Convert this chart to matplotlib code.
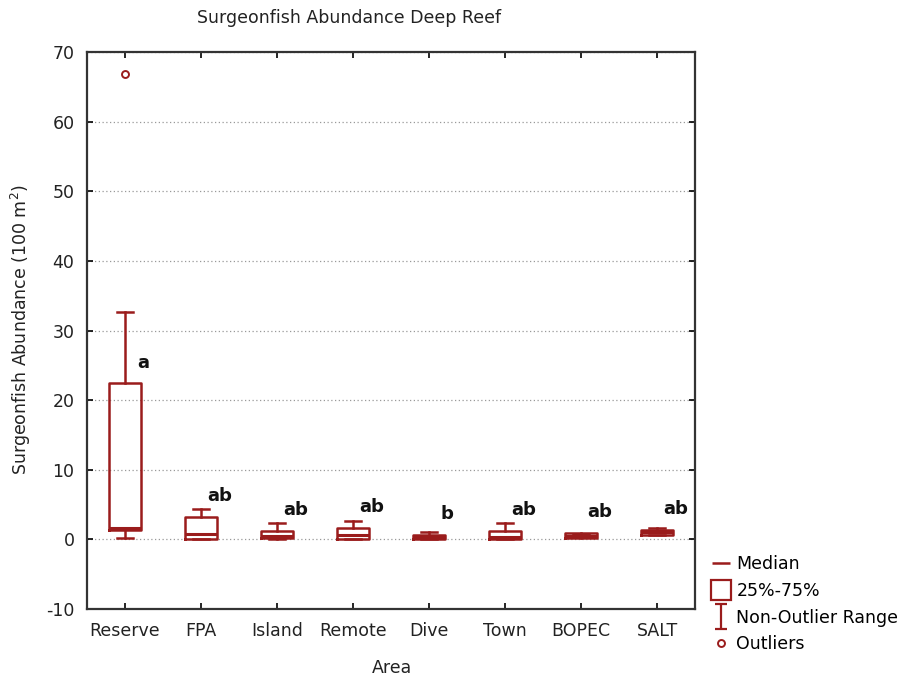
import matplotlib
matplotlib.use("Agg")
import matplotlib.pyplot as plt
from matplotlib.lines import Line2D
from matplotlib.path import Path

plt.rcParams["axes.unicode_minus"] = False
plt.rcParams["font.family"] = "DejaVu Sans"

# five-number summaries (abundance per 100 m2)
areas = ["Reserve", "FPA", "Island", "Remote", "Dive", "Town", "BOPEC", "SALT"]
whis_lo = [0.2, 0.0, 0.0, 0.0, 0.0, 0.0, 0.3, 0.7]
q1 = [1.4, 0.1, 0.2, 0.1, 0.1, 0.0, 0.2, 0.7]
med = [1.6, 0.8, 0.5, 0.6, 0.3, 0.4, 0.5, 1.1]
q3 = [22.4, 3.2, 1.2, 1.7, 0.6, 1.2, 0.9, 1.4]
whis_hi = [32.6, 4.3, 2.3, 2.6, 1.1, 2.3, 0.8, 1.7]
outliers = [[66.8], [], [], [], [], [], [], []]
letters = ["a", "ab", "ab", "ab", "b", "ab", "ab", "ab"]

red = "#9a1c1c"

fig = plt.figure(figsize=(9.12, 6.83), dpi=100)
ax = fig.add_axes([0.0954, 0.1083, 0.6667, 0.8156])

stats = []
for i, name in enumerate(areas):
    stats.append(dict(label=name, whislo=whis_lo[i], q1=q1[i], med=med[i],
                      q3=q3[i], whishi=whis_hi[i], fliers=outliers[i]))

pos = list(range(1, len(areas) + 1))
ax.bxp(stats, positions=pos, widths=0.43, capwidths=0.22,
       boxprops=dict(color=red, linewidth=1.8),
       medianprops=dict(color=red, linewidth=2.2),
       whiskerprops=dict(color=red, linewidth=1.8),
       capprops=dict(color=red, linewidth=1.8),
       flierprops=dict(marker="o", markersize=5, markerfacecolor="none",
                       markeredgecolor=red, markeredgewidth=1.4))

# significance letters next to each box
for i, let in enumerate(letters):
    ax.text(pos[i] + 0.24, q3[i] + 3, let, ha="center", va="center",
            fontsize=13, fontweight="bold", color="#111111")

ax.set_xlim(0.5, 8.5)
ax.set_ylim(-10, 70)
ax.set_yticks(range(-10, 71, 10))
ax.set_xticks(pos)
ax.set_xticklabels(areas)
ax.yaxis.grid(True, linestyle=(0, (1, 2)), color="#999999", linewidth=0.9)
ax.set_axisbelow(True)
ax.tick_params(direction="in", top=True, right=True, length=4, width=1.2,
               labelsize=12.5, pad=9, labelcolor="#222222")
for sp in ax.spines.values():
    sp.set_linewidth(1.6)
    sp.set_color("#333333")

fig.text(349 / 912, 1 - 18 / 683, "Surgeonfish Abundance Deep Reef",
         ha="center", va="center", fontsize=12.5, color="#222222")
fig.text(392 / 912, 1 - 668 / 683, "Area", ha="center", va="center",
         fontsize=12.5, color="#222222")
fig.text(21 / 912, 1 - 330 / 683, "Surgeonfish Abundance (100 m$^2$)",
         ha="center", va="center", rotation=90, fontsize=12.5,
         color="#222222")

# I-beam marker for the whisker legend entry
ibeam = Path([(-0.5, 1), (0.5, 1), (0, 1), (0, -1), (-0.5, -1), (0.5, -1)],
             [Path.MOVETO, Path.LINETO, Path.MOVETO, Path.LINETO,
              Path.MOVETO, Path.LINETO])
handles = [
    Line2D([], [], color=red, marker="_", markersize=13, mew=1.8, ls="none"),
    Line2D([], [], color=red, marker="s", markersize=15, mfc="none", mew=1.6,
           ls="none"),
    Line2D([], [], color=red, marker=ibeam, markersize=18, mew=1.6, ls="none"),
    Line2D([], [], color=red, marker="o", markersize=5, mfc="none", mew=1.4,
           ls="none"),
]
fig.legend(handles, ["Median", "25%-75%", "Non-Outlier Range", "Outliers"],
           loc="upper left", bbox_to_anchor=(700 / 912, 1 - 543 / 683),
           frameon=False, handlelength=1.0, handletextpad=0.4,
           labelspacing=0.5, borderpad=0.2, prop=dict(size=12.5))

fig.savefig("out.png", dpi=100)
